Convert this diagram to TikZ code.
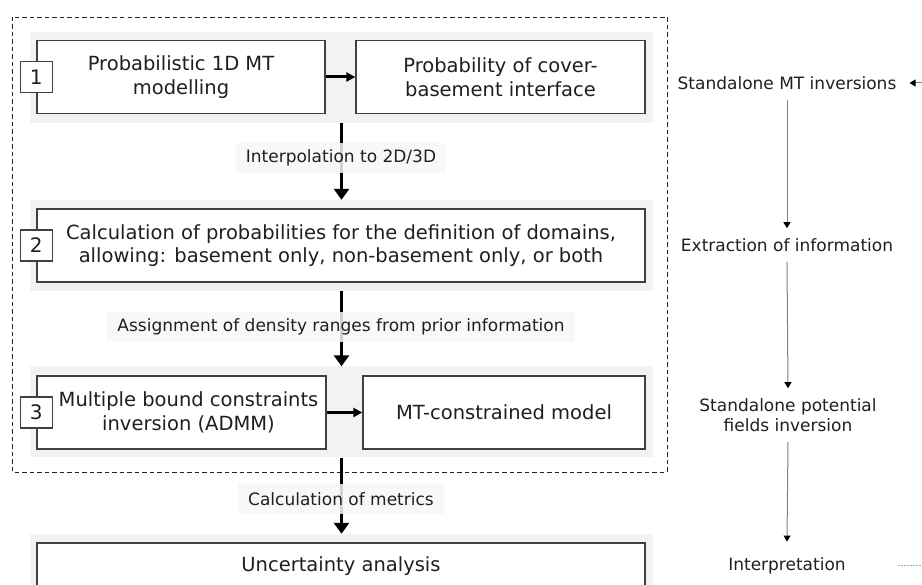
\documentclass[tikz,border=0pt]{standalone}
\usepackage{fontspec}
\setmainfont{DejaVu Sans}
\usetikzlibrary{arrows.meta}

\tikzset{
	band/.style={fill=black!5, draw=none, minimum width=623pt, minimum height=91pt, inner sep=0pt},
	stepbox/.style={draw=black!75, line width=1.3pt, fill=white, align=center, text=black!88, inner sep=0pt, minimum height=73pt, font=\fontsize{19.5}{23.5}\selectfont},
	numbox/.style={draw=black!75, line width=1.1pt, fill=white, text=black!88, minimum width=32pt, minimum height=31pt, inner sep=0pt, font=\fontsize{20}{24}\selectfont},
	flow/.style={line width=3pt, -{Triangle[width=15pt,length=11pt]}},
	link/.style={line width=3pt, -{Triangle[width=9pt,length=9pt]}},
	note/.style={fill=black!3, fill opacity=0.85, text opacity=1, text=black!88, minimum height=30pt, inner xsep=10pt, font=\fontsize{17}{20}\selectfont},
	side/.style={align=center, text=black!88, inner sep=10pt, font=\fontsize{17}{20}\selectfont},
	thinflow/.style={draw=black!50, line width=1pt, -{Triangle[width=7pt,length=6pt,color=black]}},
}

\begin{document}
\begin{tikzpicture}[x=1pt, y=-1pt]
			%%%%% START %%%%%
			\useasboundingbox (0,0) rectangle (922,585);
			\clip (0,0) rectangle (922,585);
			
			% grey bands behind each step
			\node[band] (r1) at (341.5,77.5) {};
			\node[band] (r2) at (341.5,245.5) {};
			\node[band] (r3) at (341.5,412) {};
			\node[band, minimum height=64pt] (r4) at (341.5,566) {};
			
			% dashed frame
			\draw[black!85, line width=0.9pt, dash pattern=on 4.5pt off 3pt] (12,17) rectangle (667,472);
			
			% step 1
			\node[stepbox, minimum width=288pt] (mod) at (181,77) {Probabilistic 1D MT\\modelling};
			\node[stepbox, minimum width=289pt] (prob) at (500.5,77) {Probability of cover-\\basement interface};
			\node[numbox] (n1) at (mod.west) {1};
			\draw[link] (mod) -- (prob);
			
			% step 2
			\node[stepbox, minimum width=608pt] (dom) at (341,245.5) {Calculation of probabilities for the definition of domains,\\allowing: basement only, non-basement only, or both};
			\node[numbox] (n2) at (dom.west) {2};
			
			% step 3
			\node[stepbox, minimum width=289pt] (admm) at (181.5,412.5) {\hspace*{14pt}Multiple bound constraints\\\hspace*{14pt}inversion (ADMM)};
			\node[stepbox, minimum width=282pt] (mtc) at (504,412.5) {MT-constrained model};
			\node[numbox] (n3) at (admm.west) {3};
			\draw[link] (admm) -- (mtc);
			
			% step 4
			\node[stepbox, minimum width=608pt, minimum height=46pt] (unc) at (341,566) {Uncertainty analysis};
			
			% arrows between the bands
			\draw[flow] (r1.south) -- (r2.north);
			\draw[flow] (r2.south) -- (r3.north);
			\draw[flow] (r3.south) -- (r4.north);
			
			\node[note] (l1) at (341,158) {Interpolation to 2D/3D};
			\node[note] (l2) at (341,327) {Assignment of density ranges from prior information};
			\node[note] (l3) at (341,499) {Calculation of metrics};
			
			% right column
			\node[side] (mtinv) at (787,83) {Standalone MT inversions};
			\node[side] (extr) at (787,245) {Extraction of information};
			\node[side] (pfinv) at (788,415) {Standalone potential\\fields inversion};
			\node[side, inner ysep=16pt] (interp) at (787,566) {Interpretation};
			
			\draw[thinflow] (mtinv.south) -- (extr.north);
			\draw[thinflow] (extr.south) -- (pfinv.north);
			\draw[thinflow] (pfinv.south) -- (interp.north);
			
			\coordinate (inlet) at (935,83);
			\draw[thinflow] (inlet) -- ([xshift=3pt]mtinv.east);
			\coordinate (outa) at (898,565);
			\coordinate (outb) at (930,565);
			\draw[black!35, line width=0.8pt, dash pattern=on 2pt off 1pt] (outa) -- (outb);
			
			%%%%% END %%%%%
\end{tikzpicture}
\end{document}
